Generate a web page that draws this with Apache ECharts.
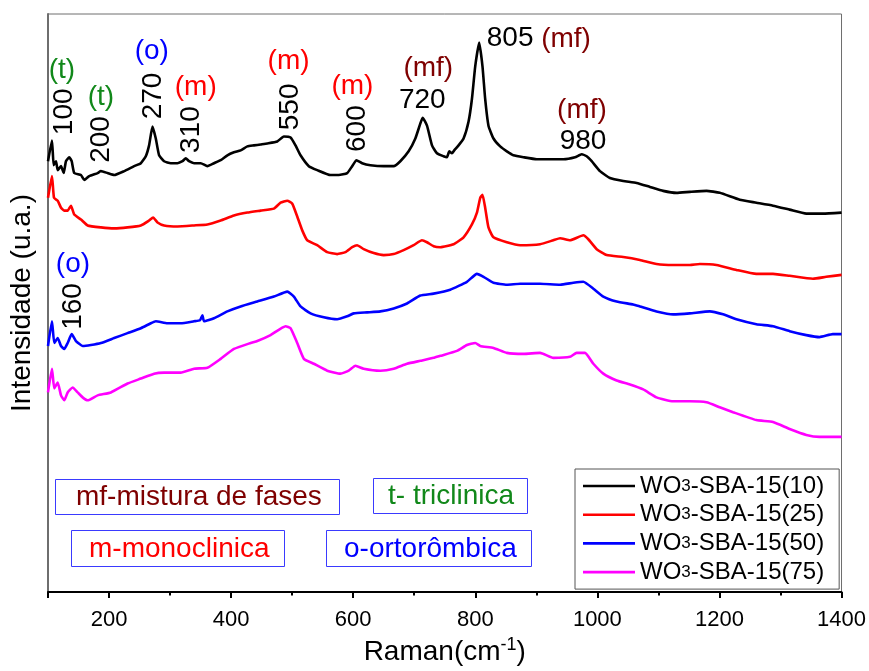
<!DOCTYPE html>
<html>
<head>
<meta charset="utf-8">
<script src="https://cdn.jsdelivr.net/npm/echarts@6/dist/echarts.min.js"></script>
<style>
html,body{margin:0;padding:0;background:#fff;}
#chart{width:869px;height:671px;}
</style>
</head>
<body>
<div id="chart"></div>
<script>
// ---- data (Raman shift in cm-1, intensity in arbitrary units) ----
const seriesNames = ['WO3-SBA-15(10)', 'WO3-SBA-15(25)', 'WO3-SBA-15(50)', 'WO3-SBA-15(75)'];

const shift10 = [100,106.5,109.3,113.1,115.9,121.3,125.7,129.4,134.8,138.8,143,154,159.4,167.5,181.3,186.7,197.6,208.4,224.8,241.1,252.1,260.2,265.6,271.2,276.6,282,290.2,301.1,312.1,320.3,325.7,331.1,339.2,350.2,361.1,371.9,382.9,393.9,404.6,415.6,426.6,437.3,448.3,459.3,475.6,486.4,497.4,505.5,513.7,527.3,541,562.8,576.3,590.1,598.3,605.3,614.6,628.2,649.9,666.3,677.2,690.8,701.8,709.9,713.7,720.9,729.1,737.2,748,753.6,757.4,761.8,765.5,772.6,780.8,788.9,794.5,799.9,806.4,811.8,816.2,821.6,829.8,840.8,851.7,862.5,878.9,900.8,922.5,944.3,963.4,974.3,982.5,990.7,1004.3,1020.6,1042.4,1064.3,1086.1,1107.8,1129.7,1151.5,1178.8,1200.5,1233.2,1260.5,1287.7,1315,1342.3,1369.4,1400];
const int10 = [436,457,432,436,427,431,424,436,440,436,424,422,417,421,424,426,424,422,426,431,434,441,452,471,459,442,436,434,434,436,439,436,434,434,431,434,437,442,445,447,451,452,453,454,456,461,460,452,442,431,427,422,422,424,431,437,434,432,431,431,436,446,459,474,480,472,452,444,441,440,446,444,447,452,459,476,499,532,556,532,499,472,459,451,446,442,440,438,438,438,440,443,441,436,426,419,416,414,410,406,404,405,406,404,397,394,391,387,383,383,384];

const shift25 = [100,106.5,109.8,115.9,121.3,126.7,132.2,137.6,143,154,164.9,186.7,208.4,230.3,252.1,265.6,272.2,279.4,290.2,312.1,339.2,361.1,382.9,404.6,426.6,448.3,470.1,481,492,500.2,508.3,516.5,524.7,541,557.4,573.7,587.3,598.3,606.4,617.2,633.6,649.9,666.3,682.6,699,712.7,720.9,731.7,742.6,764.4,780.8,794.5,802.7,808.1,811.8,816.2,821.6,829.8,851.7,873.5,906.2,927.9,938.9,955.2,977,985.2,998.9,1015.2,1042.4,1069.7,1096.9,1124.1,1151.5,1167.8,1195.1,1227.8,1260.5,1287.7,1315,1353.1,1374.9,1400];
const int25 = [399,421,399,396,389,386,386,391,382,377,371,369,368,369,371,376,379,374,371,370,371,372,376,381,384,386,388,394,396,393,380,366,356,351,344,342,344,349,351,347,343,341,342,346,351,356,354,350,349,352,359,372,384,399,402,389,369,359,354,351,352,356,358,356,361,357,347,341,339,336,332,331,331,332,331,326,322,322,320,317,319,321];

const shift50 = [100,106.5,110.3,115.9,121.3,126.7,132.2,138.8,145.8,156.7,170.3,186.7,208.4,230.3,252.1,268.4,276.6,295.7,317.5,339.2,349,353,355.6,371.9,393.9,415.6,442.9,470.1,492,502.8,513.7,530.1,551.8,573.7,590.1,600.9,622.8,644.5,666.3,688.2,709.9,731.7,759,786.3,802.7,813.5,829.8,851.7,873.5,906.2,938.9,960.7,977,993.4,1009.7,1031.6,1058.7,1069.7,1096.9,1124.1,1151.5,1184.2,1205.9,1227.8,1260.5,1287.7,1315,1342.3,1364,1385.8,1400];
const int50 = [249,274,252,257,249,246,252,261,254,249,250,252,257,262,267,272,274,272,272,274,275,280,274,277,284,289,294,299,304,299,289,282,278,276,279,282,283,284,287,292,300,302,306,314,322,319,313,311,312,312,311,313,314,307,299,294,291,289,284,281,282,284,281,276,271,269,264,260,258,261,261];

const shift75 = [100,106.5,110.3,115.9,121.3,126.7,132.2,140.4,148.6,156.7,164.9,181.3,203,230.3,252.1,273.8,290.2,317.5,339.2,361.1,382.9,404.6,432,442.9,464.6,489.2,497.4,508.3,519.2,535.5,557.4,579.1,592.7,603.6,617.2,644.5,666.3,688.2,709.9,731.7,742.6,769.9,786.3,799.9,808.1,829.8,851.7,878.9,906.2,927.9,955.2,966.1,979.7,993.4,1009.7,1031.6,1053.4,1075.1,1096.9,1124.1,1151.5,1178.8,1200.5,1222.3,1260.5,1287.7,1315,1342.3,1364,1400];
const int75 = [202,226,206,212,199,194,202,207,202,197,194,199,202,211,216,221,222,222,226,227,236,246,252,254,260,269,267,252,236,231,224,221,224,229,226,224,226,231,234,237,239,244,250,252,249,247,242,241,242,237,238,242,242,231,221,214,210,205,197,193,193,192,187,182,174,172,165,159,157,157];

// tick labels
const majorTicks = [100,200,400,600,800,1000,1200,1400];

// peak annotations: [shift, intensity, text]
const annShift = [122.9,126.2,186.7,186.7,270,271.7,342,335.5,494.1,497.4,598.7,606.9,723,713.2,857.1,948.7,974.8,976.5,140.9,140.9];
const annInt   = [528,486,501,458,547,502,511,468,537,491,512,469,530,498,560,559,488,456,332,289];
const annText  = ['(t)','100','(t)','200','(o)','270','(m)','310','(m)','550','(m)','600','(mf)','720','805','(mf)','(mf)','980','(o)','160'];
const annKind  = ['t','nr','t','nr','o','nr','m','nr','m','nr','m','nr','mf','n','n','mf','mf','n','o','nr'];

// phase legend boxes
const boxTexts = ['mf-mistura de fases', 't- triclinica', 'm-monoclinica', 'o-ortorômbica'];

// ---- chart ----
const FONT = '"Liberation Sans", Arial, sans-serif';
const lineColors = ['#000000', '#ff0000', '#0000ff', '#ff00ff'];
const kindColor = {t:'#11881a', o:'#0000ff', m:'#ff0000', mf:'#7f0000', n:'#000000', nr:'#000000'};

const zip = (a, b) => a.map((v, i) => [v, b[i]]);
const lineData = [zip(shift10, int10), zip(shift25, int25), zip(shift50, int50), zip(shift75, int75)];

const series = seriesNames.map((n, i) => ({
  name: n, type: 'line', data: lineData[i], symbol: 'none', showSymbol: false,
  smooth: 0.15,
  lineStyle: {color: lineColors[i], width: 2.6}, itemStyle: {color: lineColors[i]},
  xAxisIndex: 0, yAxisIndex: 0, z: 3
}));

series.push({
  name: 'annotations', type: 'scatter', symbolSize: 0, silent: true, clip: false, z: 5,
  itemStyle: {opacity: 1},
  emphasis: {disabled: true},
  data: annShift.map((s, i) => ({
    value: [s, annInt[i]],
    itemStyle: {opacity: 1},
    label: {
      show: true, position: 'inside', formatter: annText[i], opacity: 1,
      color: kindColor[annKind[i]], fontSize: 28, fontFamily: FONT,
      rotate: annKind[i] === 'nr' ? 90 : 0, align: 'center', verticalAlign: 'middle'
    }
  }))
});

const boxes = [
  {x:55, y:479, w:284, h:35, tx:76, color:'#7f0000'},
  {x:373, y:478, w:154, h:35, tx:388, color:'#11881a'},
  {x:71, y:530, w:213, h:36, tx:89, color:'#ff0000'},
  {x:326, y:530, w:205, h:36, tx:344, color:'#0000ff'}
];
const graphic = [];
boxes.forEach((b, i) => {
  graphic.push({type:'rect', left:b.x, top:b.y, shape:{width:b.w, height:b.h}, style:{fill:'#fff', stroke:'#3a3aff', lineWidth:1}, z:10});
  graphic.push({type:'text', x:b.tx, y:b.y + b.h/2 + 1, style:{text:boxTexts[i], fill:b.color, font:'28px ' + FONT, textVerticalAlign:'middle', verticalAlign:'middle'}, z:11});
});

const option = {
  animation: false,
  backgroundColor: '#ffffff',
  grid: {left:47, right:27, top:14, bottom:72, show:true, borderColor:'#6e6e6e', borderWidth:1, containLabel:false},
  legend: {
    data: seriesNames, orient:'vertical', left:575, top:469,
    itemWidth:52, itemHeight:14, itemGap:4.7,
    padding:[5,15,5,8], borderColor:'#555', borderWidth:1, backgroundColor:'#fff',
    icon: 'path://M0,6 L52,6 L52,8.6 L0,8.6 Z',
    textStyle:{fontSize:24, fontFamily:FONT, color:'#000', lineHeight:24, rich:{s:{fontSize:17, fontFamily:FONT, color:'#000'}}},
    formatter: n => n.replace('WO3', 'WO{s|3}')
  },
  xAxis: [
    {
      type:'value', min:100, max:1400, interval:100, position:'bottom',
      name:'Raman(cm{sup|-1})', nameLocation:'middle', nameGap:44,
      nameTextStyle:{fontSize:28, fontFamily:FONT, color:'#000', rich:{sup:{fontSize:18, fontFamily:FONT, color:'#000', verticalAlign:'top', padding:[0,0,14,0]}}},
      axisLine:{show:true, lineStyle:{color:'#000', width:2}},
      axisTick:{show:true, length:3.5, lineStyle:{color:'#000', width:2}},
      axisLabel:{margin:17, fontSize:22, fontFamily:FONT, color:'#000', formatter: v => (v % 200 === 0 ? String(v) : '')},
      splitLine:{show:false}
    },
    {
      type:'value', min:100, max:1400, interval:100, position:'bottom',
      axisLine:{show:false},
      axisTick:{show:true, length:6, customValues: majorTicks, lineStyle:{color:'#000', width:2}},
      axisLabel:{show:false},
      splitLine:{show:false}
    }
  ],
  yAxis: {
    type:'value', min:0, max:585,
    name:'Intensidade (u.a.)', nameLocation:'middle', nameGap:12, nameRotate:90,
    nameTextStyle:{fontSize:28, fontFamily:FONT, color:'#000'},
    axisLine:{show:true, lineStyle:{color:'#6e6e6e', width:2}},
    axisTick:{show:false}, axisLabel:{show:false}, splitLine:{show:false}
  },
  series: series,
  graphic: graphic
};

const chart = echarts.init(document.getElementById('chart'), null, {renderer:'canvas'});
chart.setOption(option);
</script>
</body>
</html>
